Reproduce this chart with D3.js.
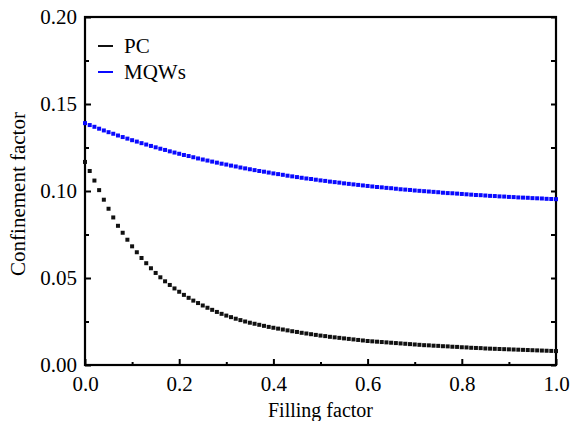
<!DOCTYPE html>
<html>
<head>
<meta charset="utf-8">
<script src="https://cdn.jsdelivr.net/npm/d3@7"></script>
<style>
  body { margin: 0; background: #fff; }
  svg { display: block; }
  text { font-family: "Liberation Serif", "Times New Roman", serif; fill: #000; }
</style>
</head>
<body>
<div id="chart"></div>
<script>
// data (filling factor step 0.01)
var fillingFactor = d3.range(0, 101).map(function (i) { return i / 100; });

var pcValues = [
  0.1167, 0.1115, 0.1060, 0.1005, 0.0950, 0.0898, 0.0848, 0.0800, 0.0760, 0.0720,
  0.0682, 0.0648, 0.0615, 0.0585, 0.0556, 0.0529, 0.0504, 0.0481, 0.0460, 0.0440,
  0.0421, 0.0403, 0.0386, 0.0370, 0.0356, 0.0342, 0.0329, 0.0317, 0.0305, 0.0294,
  0.0284, 0.0275, 0.0266, 0.0258, 0.0250, 0.0243, 0.0237, 0.0231, 0.0225, 0.0219,
  0.0214, 0.0209, 0.0204, 0.0199, 0.0194, 0.0190, 0.0185, 0.0181, 0.0177, 0.0173,
  0.0169, 0.0166, 0.0162, 0.0159, 0.0156, 0.0153, 0.0150, 0.0147, 0.0144, 0.0141,
  0.0138, 0.0136, 0.0134, 0.0132, 0.0130, 0.0128, 0.0126, 0.0124, 0.0122, 0.0120,
  0.0118, 0.0116, 0.0114, 0.0113, 0.0111, 0.0110, 0.0108, 0.0107, 0.0105, 0.0104,
  0.0102, 0.0101, 0.0099, 0.0098, 0.0097, 0.0095, 0.0094, 0.0093, 0.0092, 0.0091,
  0.0090, 0.0089, 0.0088, 0.0087, 0.0086, 0.0085, 0.0084, 0.0083, 0.0082, 0.0081,
  0.0080
];

var mqwValues = [
  0.1390, 0.1379, 0.1369, 0.1358, 0.1348, 0.1338, 0.1329, 0.1319, 0.1310, 0.1301,
  0.1292, 0.1284, 0.1275, 0.1267, 0.1259, 0.1251, 0.1243, 0.1236, 0.1228, 0.1221,
  0.1214, 0.1207, 0.1201, 0.1194, 0.1187, 0.1181, 0.1175, 0.1169, 0.1163, 0.1157,
  0.1152, 0.1146, 0.1141, 0.1135, 0.1130, 0.1125, 0.1120, 0.1115, 0.1111, 0.1106,
  0.1101, 0.1097, 0.1093, 0.1088, 0.1084, 0.1080, 0.1076, 0.1072, 0.1069, 0.1065,
  0.1061, 0.1058, 0.1054, 0.1051, 0.1048, 0.1044, 0.1041, 0.1038, 0.1035, 0.1032,
  0.1029, 0.1026, 0.1023, 0.1021, 0.1018, 0.1016, 0.1013, 0.1010, 0.1008, 0.1006,
  0.1003, 0.1001, 0.0999, 0.0997, 0.0995, 0.0993, 0.0990, 0.0988, 0.0987, 0.0985,
  0.0983, 0.0981, 0.0979, 0.0977, 0.0976, 0.0974, 0.0972, 0.0971, 0.0969, 0.0968,
  0.0966, 0.0965, 0.0963, 0.0962, 0.0961, 0.0959, 0.0958, 0.0957, 0.0955, 0.0954,
  0.0953
];

var seriesNames = ["PC", "MQWs"];
var seriesColors = ["#111111", "#0a0aff"];

var xMajor = [0, 0.2, 0.4, 0.6, 0.8, 1.0];
var xMinor = [0.1, 0.3, 0.5, 0.7, 0.9];
var yMajor = [0, 0.05, 0.10, 0.15, 0.20];
var yMinor = [0.025, 0.075, 0.125, 0.175];

var serif = "'Liberation Serif', 'Times New Roman', serif";

var margin = { top: 17, right: 14, bottom: 56, left: 85 },
    width = 570 - margin.left - margin.right,
    height = 421 - margin.top - margin.bottom;

var svg = d3.select("#chart")
    .append("svg")
    .attr("width", 570)
    .attr("height", 421)
    .append("g")
    .attr("transform", "translate(" + margin.left + "," + margin.top + ")");

var x = d3.scaleLinear().domain([0, 1]).range([0, width]);
var y = d3.scaleLinear().domain([0, 0.2]).range([height, 0]);

function styleAxis(g) {
    g.attr("font-family", serif).attr("font-size", 21);
    g.select(".domain").remove();
    g.selectAll("line").attr("stroke", "#000").attr("stroke-width", 2);
    g.selectAll("text").attr("fill", "#000");
}

// x axis
svg.append("g")
    .attr("transform", "translate(0," + height + ")")
    .call(d3.axisBottom(x).tickValues(xMajor).tickSize(-6).tickPadding(11)
        .tickFormat(d3.format(".1f")))
    .call(styleAxis);
svg.append("g")
    .attr("transform", "translate(0," + height + ")")
    .call(d3.axisBottom(x).tickValues(xMinor).tickSize(-3).tickFormat(""))
    .call(styleAxis);

// y axis
svg.append("g")
    .call(d3.axisLeft(y).tickValues(yMajor).tickSize(-6).tickPadding(8)
        .tickFormat(d3.format(".2f")))
    .call(styleAxis);
svg.append("g")
    .call(d3.axisLeft(y).tickValues(yMinor).tickSize(-4).tickFormat(""))
    .call(styleAxis);

// right side ticks
svg.append("g")
    .attr("transform", "translate(" + width + ",0)")
    .call(d3.axisRight(y).tickValues(yMajor.concat(yMinor)).tickSize(-5).tickFormat(""))
    .call(styleAxis);

// frame
svg.append("rect")
    .attr("x", 0)
    .attr("y", 0)
    .attr("width", width)
    .attr("height", height)
    .attr("fill", "none")
    .attr("stroke", "#000")
    .attr("stroke-width", 2.2);

// markers
var allSeries = [pcValues, mqwValues];
allSeries.forEach(function (vals, k) {
    svg.append("g")
        .selectAll("rect")
        .data(vals)
        .enter()
        .append("rect")
        .attr("x", function (d, i) { return x(fillingFactor[i]) - 2; })
        .attr("y", function (d) { return y(d) - 2; })
        .attr("width", 4)
        .attr("height", 4)
        .attr("fill", seriesColors[k]);
});

// legend
var legend = svg.append("g");
seriesNames.forEach(function (name, k) {
    var ly = 29 + k * 26;
    legend.append("line")
        .attr("x1", 13).attr("x2", 28)
        .attr("y1", ly).attr("y2", ly)
        .attr("stroke", seriesColors[k])
        .attr("stroke-width", 2);
    legend.append("text")
        .attr("x", 39)
        .attr("y", ly + 7)
        .attr("font-family", serif)
        .attr("font-size", 21)
        .text(name);
});

// axis titles
svg.append("text")
    .attr("text-anchor", "middle")
    .attr("font-family", serif)
    .attr("font-size", 20)
    .attr("x", width / 2)
    .attr("y", height + 52)
    .text("Filling factor");

svg.append("text")
    .attr("text-anchor", "middle")
    .attr("font-family", serif)
    .attr("font-size", 21)
    .attr("transform", "translate(" + (25 - margin.left) + "," + (height / 2 + 3) + ") rotate(-90)")
    .text("Confinement factor");
</script>
</body>
</html>
